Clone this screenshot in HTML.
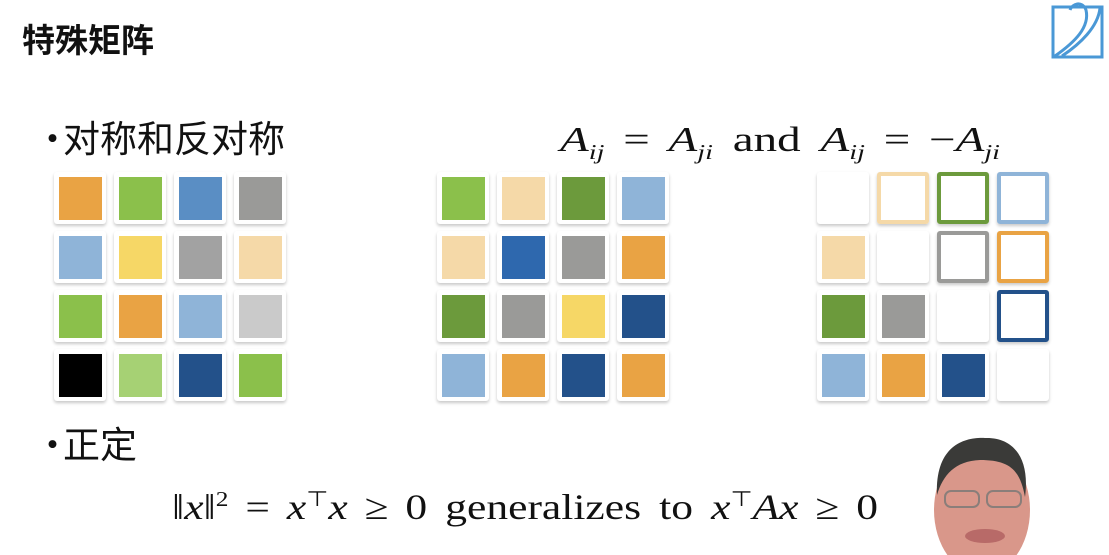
<!DOCTYPE html>
<html><head><meta charset="utf-8">
<style>
body{margin:0;width:1109px;height:555px;background:#fff;position:relative;overflow:hidden;font-family:"Liberation Sans","Noto Sans CJK SC",sans-serif}
.abs{position:absolute}
.card{position:absolute;width:52px;height:52px;background:#fff;border-radius:3px;box-shadow:0 2px 3px rgba(0,0,0,0.22)}
.fill{position:absolute;left:5px;top:5px;width:43px;height:43px}
.outl{position:absolute;left:0;top:0;width:44px;height:44px;border:4px solid;border-radius:3px;background:#fff}
.math{font-family:"Liberation Serif",serif;color:#111;white-space:nowrap;transform-origin:0 0;word-spacing:6px}
.op{padding:0 14px}
.cjk{font-size:37px;color:#111;font-family:'Noto Sans CJK SC',sans-serif}
</style></head><body>
<div class="abs" style="left:22px;top:14px;font-size:33px;font-weight:bold;color:#111;font-family:'Noto Sans CJK SC',sans-serif">特殊矩阵</div>
<svg class="abs" style="left:1050px;top:2px" width="56" height="58" viewBox="0 0 56 58">
<rect x="3" y="5" width="49" height="50" fill="none" stroke="#4a98d6" stroke-width="3"/>
<path d="M5 54 C25 40 40 25 36 8 C32 -2 22 2 20 8" fill="none" stroke="#4a98d6" stroke-width="3"/>
<path d="M12 54 C30 42 48 25 50 6" fill="none" stroke="#4a98d6" stroke-width="3"/>
</svg>
<div class="abs cjk" style="left:34px;top:109px">•</div>
<div class="abs cjk" style="left:63px;top:109px">对称和反对称</div>
<div class="abs math" id="f1" data-target="440" style="left:560px;top:120px;font-size:35px"><i>A<sub style="font-size:21px">ij</sub></i><span class="op">=</span><i>A<sub style="font-size:21px">ji</sub></i> and <i>A<sub style="font-size:21px">ij</sub></i><span class="op">=</span>−<i>A<sub style="font-size:21px">ji</sub></i></div>
<div class="abs cjk" style="left:34px;top:415px">•</div>
<div class="abs cjk" style="left:63px;top:415px">正定</div>
<div class="abs math" id="f2" data-target="706" style="left:172px;top:486px;font-size:36px">‖<i>x</i>‖<sup style="font-size:21px">2</sup><span class="op">=</span><i>x</i><sup style="font-size:21px">⊤</sup><i>x</i><span class="op">≥</span>0 generalizes to <i>x</i><sup style="font-size:21px">⊤</sup><i>Ax</i><span class="op">≥</span>0</div>
<div id="grids"></div>
<svg class="abs" style="left:925px;top:425px" width="130" height="130">
<ellipse cx="57" cy="85" rx="48" ry="65" fill="#d9978a"/>
<path d="M12 70 C10 20 40 12 60 13 C90 12 105 35 100 72 C95 45 85 35 55 35 C30 36 18 50 12 70Z" fill="#3a3a38"/>
<rect x="20" y="66" width="34" height="16" rx="6" fill="none" stroke="#8a7e7a" stroke-width="2"/>
<rect x="62" y="66" width="34" height="16" rx="6" fill="none" stroke="#8a7e7a" stroke-width="2"/>
<ellipse cx="60" cy="111" rx="20" ry="7" fill="#b86a68"/>
</svg>
<script>
const leftColors=["#e9a344","#8bc04b","#5a8ec4","#9a9a98","#8fb4d8","#f6d766","#a2a2a2","#f5d9a8","#8bc04b","#e9a344","#8fb4d8","#cacaca","#000000","#a6d174","#23518a","#8bc04b"];
const midColors=["#8bc04b","#f5d9a8","#6c9a3c","#8fb4d8","#f5d9a8","#2e68ae","#9a9a98","#e9a344","#6c9a3c","#9a9a98","#f6d766","#23518a","#8fb4d8","#e9a344","#23518a","#e9a344"];
const rightColors=["","#f5d9a8","#6c9a3c","#8fb4d8","#f5d9a8","","#9a9a98","#e9a344","#6c9a3c","#9a9a98","","#23518a","#8fb4d8","#e9a344","#23518a",""];
const rightTypes=["e","o","o","o","f","e","o","o","f","f","e","o","f","f","f","e"];
const g=document.getElementById('grids');
function grid(x0,y0,colors,types,name){
  colors.forEach((c,i)=>{
    const r=Math.floor(i/4),k=i%4;
    const d=document.createElement('div');
    d.className='card';
    
    
    d.style.left=(x0+k*60)+'px';d.style.top=(y0+r*59)+'px';
    const t=types?types[i]:'f';
    if(t==='f'){const f=document.createElement('div');f.className='fill';f.style.background=c;d.appendChild(f);}
    else if(t==='o'){const f=document.createElement('div');f.className='outl';f.style.borderColor=c;d.appendChild(f);}
    g.appendChild(d);
  });
}
grid(54,172,leftColors,null,'general-matrix');
grid(437,172,midColors,null,'symmetric-matrix');
grid(817,172,rightColors,rightTypes,'antisymmetric-matrix');
['f1','f2'].forEach(id=>{const e=document.getElementById(id);const w=e.getBoundingClientRect().width;const t=+e.dataset.target;e.style.transform='scaleX('+(t/w)+')';});
</script>
</body></html>
